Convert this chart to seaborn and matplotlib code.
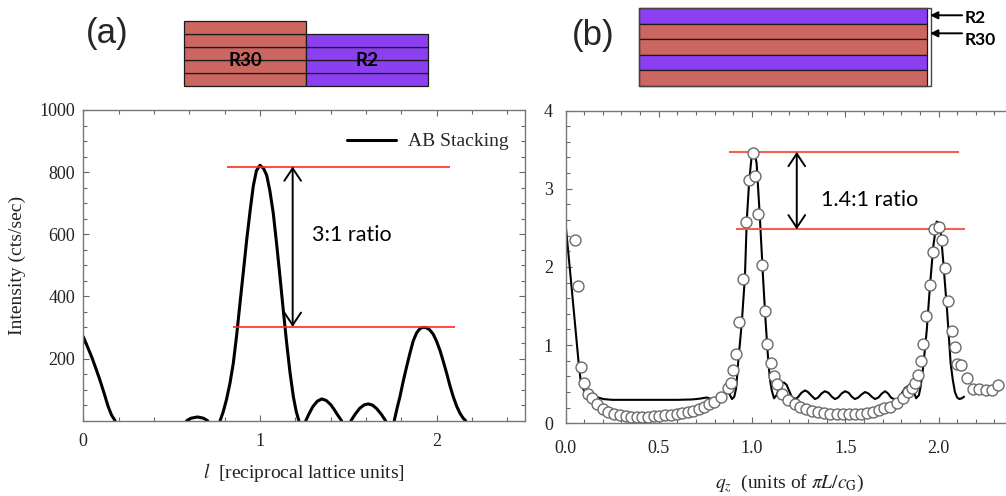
import matplotlib
matplotlib.use("Agg")
import matplotlib.pyplot as plt
import pandas as pd
import seaborn as sns
from matplotlib.lines import Line2D
from matplotlib.patches import Rectangle
from matplotlib.ticker import MultipleLocator, FixedLocator

# ---------------- data ----------------
# (a) simulated AB-stacking rod; each lobe drops to zero, so lobes are kept apart
ab_l = [0.0, 0.02, 0.047, 0.07, 0.094, 0.118, 0.141, 0.16, 0.18,
        0.585, 0.61, 0.647, 0.68, 0.704,
        0.774, 0.79, 0.81, 0.83, 0.849, 0.868, 0.887, 0.906, 0.925, 0.944, 0.962, 0.98,
        1.0, 1.02, 1.038, 1.056, 1.075, 1.094, 1.113, 1.132, 1.151, 1.17, 1.189, 1.205, 1.22,
        1.259, 1.28, 1.30, 1.325, 1.35, 1.375, 1.40, 1.42, 1.44, 1.462,
        1.515, 1.54, 1.565, 1.59, 1.613, 1.637, 1.66, 1.685, 1.711,
        1.76, 1.775, 1.792, 1.81, 1.83, 1.85, 1.868, 1.887, 1.905, 1.92, 1.938, 1.96,
        1.981, 2.0, 2.019, 2.038, 2.057, 2.075, 2.094, 2.113, 2.132, 2.15, 2.164]
ab_intensity = [270, 243, 206, 170, 131, 88, 45, 18, 0,
                0, 8, 12, 8, 0,
                0, 25, 67, 120, 185, 275, 379, 480, 583, 675, 755, 805,
                822, 812, 790, 740, 669, 570, 465, 355, 250, 155, 77, 30, 0,
                0, 25, 46, 63, 70, 65, 52, 36, 18, 0,
                0, 22, 40, 51, 54, 50, 39, 22, 0,
                0, 38, 77, 125, 174, 220, 258, 283, 296, 300, 300, 293,
                278, 255, 226, 190, 152, 113, 77, 47, 24, 8, 0]
ab_lobe = [0] * 9 + [1] * 5 + [2] * 25 + [3] * 10 + [4] * 9 + [5] * 23

# (b) model fit
fit_q = [0.0, 0.035, 0.069, 0.081, 0.092, 0.105, 0.125, 0.149, 0.175, 0.203,
         0.25, 0.30, 0.40, 0.50, 0.60, 0.68, 0.72, 0.757, 0.784, 0.81,
         0.835, 0.865, 0.88, 0.893, 0.905, 0.915, 0.927, 0.945, 0.962, 0.972,
         0.985, 0.998, 1.007, 1.016, 1.025, 1.043, 1.060, 1.073, 1.087, 1.097,
         1.106, 1.118, 1.132, 1.145, 1.159, 1.172, 1.186, 1.20, 1.213, 1.23,
         1.245, 1.265, 1.284, 1.30, 1.32, 1.338, 1.355, 1.372, 1.391, 1.41,
         1.428, 1.445, 1.462, 1.48, 1.499, 1.518, 1.535, 1.552, 1.57, 1.588,
         1.606, 1.625, 1.642, 1.66, 1.678, 1.696, 1.714, 1.73, 1.745, 1.76,
         1.785, 1.80, 1.82, 1.846, 1.865, 1.88, 1.895, 1.905, 1.918, 1.937,
         1.954, 1.972, 1.99, 2.008, 2.026, 2.047, 2.065, 2.077, 2.088, 2.10,
         2.112, 2.125, 2.137]
fit_I = [2.56, 1.68, 0.81, 0.55, 0.45, 0.40, 0.37, 0.35, 0.33, 0.31,
         0.30, 0.30, 0.30, 0.30, 0.30, 0.305, 0.315, 0.33, 0.31, 0.33,
         0.37, 0.40, 0.37, 0.31, 0.34, 0.45, 0.81, 1.28, 1.87, 2.60,
         3.10, 3.41, 3.49, 3.44, 3.32, 2.60, 1.83, 1.30, 0.80, 0.55,
         0.42, 0.32, 0.36, 0.45, 0.52, 0.52, 0.49, 0.41, 0.34, 0.31,
         0.33, 0.39, 0.42, 0.40, 0.35, 0.31, 0.33, 0.38, 0.41, 0.39,
         0.34, 0.31, 0.33, 0.38, 0.41, 0.39, 0.34, 0.31, 0.33, 0.37,
         0.40, 0.38, 0.34, 0.31, 0.33, 0.38, 0.41, 0.38, 0.33, 0.31,
         0.31, 0.37, 0.45, 0.49, 0.42, 0.32, 0.36, 0.48, 0.72, 1.19,
         1.75, 2.26, 2.58, 2.56, 2.05, 1.41, 0.77, 0.55, 0.40, 0.33,
         0.31, 0.32, 0.34]

# (b) measured points
meas_q = [0.051, 0.069, 0.081, 0.099, 0.122, 0.140, 0.167, 0.199, 0.230, 0.261,
          0.292, 0.323, 0.351, 0.382, 0.412, 0.442, 0.473, 0.503, 0.534, 0.564,
          0.596, 0.626, 0.657, 0.685, 0.716, 0.743, 0.771, 0.798, 0.832, 0.873,
          0.887, 0.900, 0.914, 0.930, 0.950, 0.968, 0.982, 1.004, 1.016, 1.034,
          1.052, 1.068, 1.083, 1.100, 1.117, 1.135, 1.159, 1.195, 1.230, 1.257,
          1.290, 1.323, 1.355, 1.388, 1.420, 1.454, 1.486, 1.520, 1.552, 1.584,
          1.618, 1.650, 1.680, 1.710, 1.740, 1.776, 1.808, 1.838, 1.860, 1.875,
          1.890, 1.906, 1.919, 1.933, 1.954, 1.969, 1.978, 2.004, 2.017, 2.035,
          2.053, 2.070, 2.088, 2.097, 2.119, 2.154, 2.183, 2.219, 2.255, 2.285,
          2.320]
meas_I = [2.35, 1.75, 0.72, 0.51, 0.38, 0.32, 0.25, 0.18, 0.14, 0.115,
          0.10, 0.09, 0.085, 0.085, 0.085, 0.085, 0.09, 0.095, 0.10, 0.11,
          0.12, 0.13, 0.14, 0.16, 0.18, 0.21, 0.25, 0.27, 0.34, 0.45,
          0.52, 0.68, 0.88, 1.29, 1.85, 2.57, 3.11, 3.46, 3.16, 2.68,
          2.02, 1.44, 1.02, 0.77, 0.61, 0.50, 0.38, 0.30, 0.25, 0.21,
          0.18, 0.16, 0.145, 0.13, 0.12, 0.115, 0.115, 0.115, 0.12, 0.125,
          0.135, 0.15, 0.165, 0.19, 0.21, 0.26, 0.32, 0.40, 0.45, 0.52,
          0.62, 0.80, 1.01, 1.37, 1.77, 2.19, 2.48, 2.51, 2.35, 1.98,
          1.57, 1.18, 0.97, 0.76, 0.75, 0.575, 0.44, 0.44, 0.43, 0.42,
          0.49]

# reference levels used for the peak-ratio markers
ratio_a_levels = [818, 302]
ratio_b_levels = [3.47, 2.48]

# layer stacks for the two schematics
stack_a_names = ["R30", "R2"]
stack_a_layers = [5, 4]
stack_b = ["R2", "R30", "R30", "R2", "R30"]          # top to bottom
layer_colors = {"R30": "#cc6660", "R2": "#8c3ff1"}

# ---------------- style ----------------
sns.set_theme(style="ticks")
serif = ["Liberation Serif", "DejaVu Serif"]
plt.rcParams["font.family"] = serif
plt.rcParams["mathtext.fontset"] = "stix"
plt.rcParams["axes.edgecolor"] = "#777777"
plt.rcParams["axes.linewidth"] = 1.0

W, H = 1006, 496
fig = plt.figure(figsize=(W / 100, H / 100), dpi=100)


def px_axes(x0, y0, x1, y1):
    return fig.add_axes([x0 / W, 1 - y1 / H, (x1 - x0) / W, (y1 - y0) / H])


def style_ticks(ax, xpad, ypad):
    ax.tick_params(which="both", direction="in", top=True, right=True,
                   color="#666666", width=0.8, labelcolor="#222222",
                   labelsize=13)
    ax.tick_params(which="major", length=4)
    ax.tick_params(which="minor", length=3)
    ax.tick_params(axis="x", pad=xpad)
    ax.tick_params(axis="y", pad=ypad)
    for axis in (ax.xaxis, ax.yaxis):
        for tick in axis.get_major_ticks():
            tick.label1.set_family(serif)
            tick.label2.set_family(serif)
    for s in ax.spines.values():
        s.set_visible(True)
        s.set_color("#777777")


annot_font = ["Lato", "DejaVu Sans"]

# ---------------- panel (a) ----------------
axA = px_axes(83.3, 110, 525, 420.7)
df_a = pd.DataFrame({"l": ab_l, "I": ab_intensity, "lobe": ab_lobe})
sns.lineplot(data=df_a, x="l", y="I", units="lobe", estimator=None,
             color="black", lw=2.2, ax=axA, legend=False)
axA.set_xlim(0, 2.5)
axA.set_ylim(0, 1000)
axA.xaxis.set_major_locator(FixedLocator([0, 1, 2]))
axA.xaxis.set_major_formatter(plt.FuncFormatter(lambda v, p: f"{v:.0f}"))
axA.xaxis.set_minor_locator(MultipleLocator(0.2))
axA.yaxis.set_major_locator(FixedLocator([200, 400, 600, 800, 1000]))
axA.yaxis.set_major_formatter(plt.FuncFormatter(lambda v, p: f"{v:.0f}"))
axA.yaxis.set_minor_locator(MultipleLocator(50))
style_ticks(axA, 9, 6)

axA.set_xlabel(r"$l$  [reciprocal lattice units]", fontsize=14, color="#222222")
axA.xaxis.label.set_verticalalignment("center")
axA.xaxis.set_label_coords(0.5, -0.168)
axA.set_ylabel("Intensity (cts/sec)", fontsize=14, color="#222222")
axA.yaxis.label.set_verticalalignment("center")
axA.yaxis.set_label_coords(-0.150, 0.5)

axA.hlines(ratio_a_levels[0], 0.814, 2.074, color="#ff2a1a", lw=1.2)
axA.hlines(ratio_a_levels[1], 0.846, 2.106, color="#ff2a1a", lw=1.2)
axA.annotate("", xy=(1.185, ratio_a_levels[1]), xytext=(1.185, ratio_a_levels[0]),
             arrowprops=dict(arrowstyle="<->,head_length=0.45,head_width=0.3",
                             color="black", lw=1.4, mutation_scale=20,
                             shrinkA=0, shrinkB=0))
axA.text(1.293, 597, "3:1 ratio", fontsize=15.5, family=annot_font,
         ha="left", va="center", color="black")

axA.legend(handles=[Line2D([], [], color="black", lw=2.2)], labels=["AB Stacking"],
           loc="center left", bbox_to_anchor=(0.597, 0.898), frameon=False,
           borderpad=0, borderaxespad=0, handlelength=2.5, handletextpad=0.65,
           prop={"family": "Liberation Serif", "size": 14})

# ---------------- panel (b) ----------------
axB = px_axes(565.5, 110.5, 565.5 + 2.4 * 186.5, 423.3)
sns.lineplot(x=fit_q, y=fit_I, sort=False, color="black", lw=1.5, ax=axB, zorder=2)
sns.scatterplot(x=meas_q, y=meas_I, marker="o", s=62, facecolor="white",
                edgecolor="#6a6a6a", linewidth=1.0, ax=axB, zorder=3)
axB.set_xlim(0, 2.4)
axB.set_ylim(0, 4)
axB.xaxis.set_major_locator(FixedLocator([0, 0.5, 1.0, 1.5, 2.0]))
axB.xaxis.set_major_formatter(plt.FuncFormatter(lambda v, p: f"{v:.1f}"))
axB.xaxis.set_minor_locator(MultipleLocator(0.1))
axB.yaxis.set_major_locator(FixedLocator([0, 1, 2, 3, 4]))
axB.yaxis.set_major_formatter(plt.FuncFormatter(lambda v, p: f"{v:.0f}"))
axB.yaxis.set_minor_locator(MultipleLocator(0.2))
style_ticks(axB, 12, 9)
axB.set_xlabel(r"$q_z$  (units of $\pi L/c_{\mathrm{G}}$)", fontsize=14, color="#222222")
axB.xaxis.label.set_verticalalignment("center")
axB.xaxis.set_label_coords(0.5, -0.191)
axB.set_ylabel("")

axB.hlines(ratio_b_levels[0], 0.878, 2.11, color="#f5604c", lw=1.5)
axB.hlines(ratio_b_levels[1], 0.914, 2.144, color="#f5604c", lw=1.5)
axB.annotate("", xy=(1.24, ratio_b_levels[1]), xytext=(1.24, ratio_b_levels[0]),
             arrowprops=dict(arrowstyle="<->,head_length=0.45,head_width=0.3",
                             color="black", lw=1.4, mutation_scale=20,
                             shrinkA=0, shrinkB=0))
axB.text(1.37, 2.86, "1.4:1 ratio", fontsize=15.5, family=annot_font,
         ha="left", va="center", color="black")

# ---------------- schematics ----------------
axS1 = px_axes(184, 21, 428.3, 86)
for col, (name, n) in enumerate(zip(stack_a_names, stack_a_layers)):
    axS1.bar([col] * n, [1] * n, bottom=list(range(n)), width=1, align="edge",
             color=layer_colors[name], edgecolor="#1a1a1a", linewidth=0.9,
             clip_on=False)
    axS1.text(col + 0.5, 2, name, ha="center", va="center", fontsize=13.5,
              fontweight="bold", family=annot_font, color="black")
axS1.set_xlim(0, 2)
axS1.set_ylim(0, 5)
axS1.axis("off")

axS2 = px_axes(639, 8.3, 931, 86)
nb = len(stack_b)
for i, name in enumerate(stack_b):
    axS2.bar([0], [1], bottom=[nb - 1 - i], width=1, align="edge",
             color=layer_colors[name], edgecolor="#1a1a1a", linewidth=0.9,
             clip_on=False)
axS2.add_patch(Rectangle((0, 0), 1.015, nb, fill=False, ec="#444444", lw=1,
                         clip_on=False))
axS2.set_xlim(0, 1.015)
axS2.set_ylim(0, nb)
axS2.axis("off")
for label, y_tip, y_txt in [("R2", 4.55, 4.36), ("R30", 3.39, 2.96)]:
    axS2.annotate("", xy=(1.012, y_tip), xytext=(1.123, y_tip),
                  arrowprops=dict(arrowstyle="-|>", color="black", lw=1.4,
                                  mutation_scale=11, shrinkA=0, shrinkB=0),
                  annotation_clip=False)
    axS2.text(1.133, y_txt, label, ha="left", va="center", fontsize=12.5,
              fontweight="bold", family=annot_font, color="black", clip_on=False)

fig.text(106.7 / W, 1 - 33 / H, "(a)", ha="center", va="center", fontsize=25,
         family=["Liberation Sans", "DejaVu Sans"])
fig.text(593.3 / W, 1 - 35 / H, "(b)", ha="center", va="center", fontsize=25,
         family=["Liberation Sans", "DejaVu Sans"])

fig.savefig("out.png", dpi=100)
